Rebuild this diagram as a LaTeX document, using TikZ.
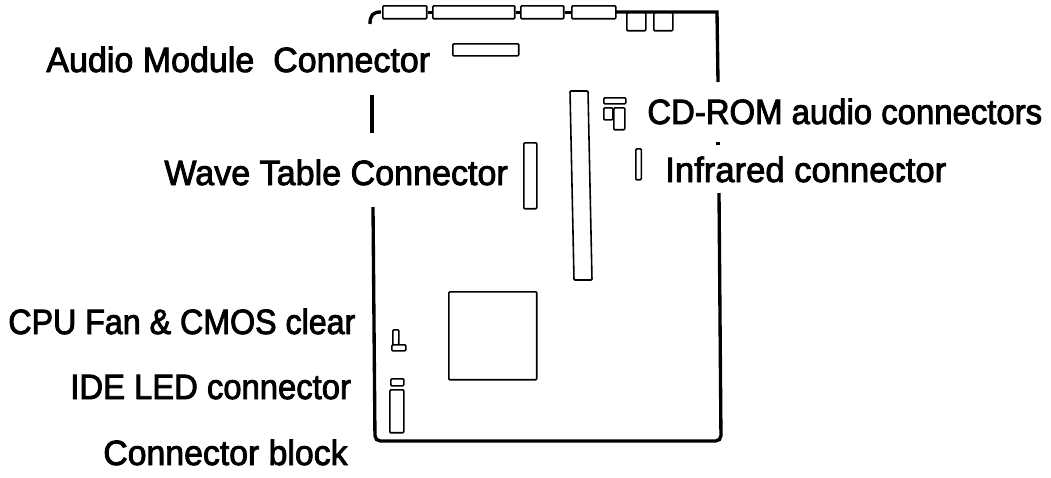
\documentclass[tikz,border=0pt]{standalone}
\usepackage{fontspec}
\setmainfont{Liberation Sans}
\newfontfamily\labelfont[FakeStretch=0.95,FakeBold=2.4]{Liberation Sans}
\usetikzlibrary{positioning}
\tikzset{
  partbox/.style={draw=black, line width=0.9pt, rounded corners=0.6pt, fill=white, inner sep=0pt, anchor=north west},
  partlabel/.style={anchor=base west, inner sep=0pt, font=\labelfont\fontsize{20}{24}\selectfont\addfontfeature{FakeStretch=#1}},
  boardline/.style={draw=black, line width=1.9pt},
  linkline/.style={draw=black, line width=2pt}
}
\begin{document}
\begin{tikzpicture}[x=0.02cm, y=-0.02cm]
\useasboundingbox (0,0) rectangle (1051,477);
% board outline
\draw[boardline] (370,24) .. controls (370,15) and (373,12) .. (381,12);
\draw[boardline] (615,12) -- (717,12) -- (718,82);
\draw[boardline] (372,95) -- (372,133);
\draw[boardline] (718,142) -- (718,145);
\draw[boardline, rounded corners=3pt] (719,193) -- (721,441) -- (375,441) -- (373,207);
% back panel
\node[partbox, minimum width=0.88cm, minimum height=0.26cm] (serial) at (382,5) {};
\node[partbox, minimum width=1.64cm, minimum height=0.26cm] (parallel) at (432,5) {};
\node[partbox, minimum width=0.86cm, minimum height=0.26cm] (portc) at (520,5) {};
\node[partbox, minimum width=0.88cm, minimum height=0.26cm] (portd) at (571,5) {};
\node[partbox, minimum width=0.38cm, minimum height=0.36cm] (jacka) at (626,12) {};
\node[partbox, minimum width=0.38cm, minimum height=0.36cm] (jackb) at (653,12) {};
\draw[linkline] (serial) -- (parallel);
\draw[linkline] (parallel) -- (portc);
\draw[linkline] (portc) -- (portd);
% connectors on the board
\node[partbox, minimum width=1.32cm, minimum height=0.24cm] (audio) at (452,43) {};
\node[partbox, minimum width=0.26cm, minimum height=1.32cm] (wave) at (523,142) {};
\draw[draw=black, line width=0.9pt, rounded corners=0.6pt] (570,91) -- (588,91) -- (592,280) -- (574,280) -- cycle;
\node[partbox, minimum width=0.44cm, minimum height=0.12cm] (cdtop) at (603,97) {};
\node[partbox, minimum width=0.18cm, minimum height=0.24cm] (cdleft) at (603,107) {};
\node[partbox, minimum width=0.22cm, minimum height=0.44cm] (cdright) at (613,107) {};
\node[partbox, minimum width=0.11cm, minimum height=0.62cm] (infra) at (635,148) {};
\node[partbox, minimum width=1.76cm, minimum height=1.76cm] (cpu) at (448,291) {};
\node[partbox, minimum width=0.12cm, minimum height=0.30cm] (fan) at (392,329) {};
\node[partbox, minimum width=0.28cm, minimum height=0.12cm] (cmos) at (391,344) {};
\node[partbox, minimum width=0.26cm, minimum height=0.14cm] (ideled) at (390,378) {};
\node[partbox, minimum width=0.28cm, minimum height=0.86cm] (block) at (389,389) {};
% labels
\node[partlabel=0.968] (audiotext) at (46,72) {Audio Module\ \ Connector};
\node[partlabel=0.97] (wavetext) at (164,185) {Wave Table Connector};
\node[partlabel=0.936] (cdtext) at (647,124) {CD-ROM audio connectors};
\node[partlabel=0.985] (infratext) at (665,182) {Infrared connector};
\node[partlabel=0.916] (fantext) at (8,334) {CPU Fan \& CMOS clear};
\node[partlabel=0.933] (idetext) at (70,399) {IDE LED connector};
\node[partlabel=0.962] (blocktext) at (103,465) {Connector block};
\end{tikzpicture}
\end{document}
